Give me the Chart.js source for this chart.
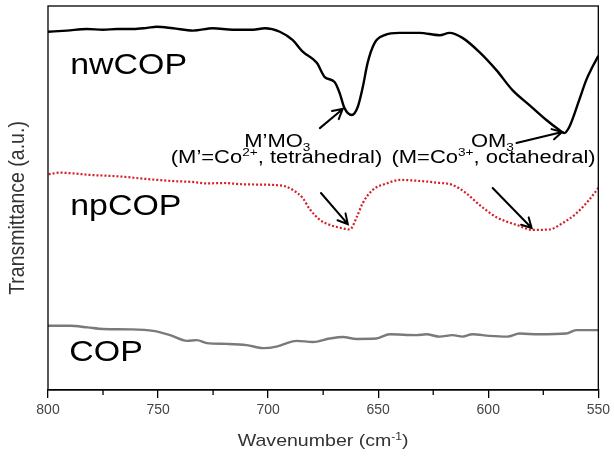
<!DOCTYPE html>
<html><head><meta charset="utf-8">
<script src="https://cdn.jsdelivr.net/npm/chart.js@4.4.1/dist/chart.umd.min.js"></script>
<style>html,body{margin:0;padding:0;background:#fff;}canvas{display:block;}</style>
</head><body>
<canvas id="c" width="614" height="458"></canvas>
<script>
// ---- data (wavenumber in cm^-1, transmittance in arbitrary units) ----
const nwWave = [800, 791.4, 782.3, 775, 768.7, 761.3, 755, 750.6, 743.2, 734.1, 725.1, 716, 706.9, 701.5, 694.7, 688.8, 684.3, 677.9, 674.3, 669.8, 667.5, 665.3, 662, 659.3, 657, 654.8, 651.6, 647.1, 640.3, 631.2, 622.1, 617.6, 611.7, 604, 596.3, 589, 581.3, 573.6, 567.7, 565.5, 563.2, 558.7, 555.5, 552.7, 550];
const nwT = [93.3, 93.6, 94.0, 93.8, 94.0, 94.0, 94.3, 94.6, 94.2, 93.6, 94.2, 93.8, 93.8, 94.2, 93.3, 91.1, 88.1, 85.2, 81.5, 80.2, 77.3, 73.4, 71.6, 73.7, 78.9, 85.2, 90.4, 92.4, 93.0, 93.0, 92.4, 93.0, 91.7, 88.0, 83.3, 78.1, 74.2, 70.3, 67.7, 66.9, 68.5, 75.5, 80.7, 84.1, 87.0];

const npWave = [799.7, 794.4, 788.5, 780.8, 773.1, 765, 758.1, 750, 743.2, 735, 727.8, 720, 712.8, 705, 697.8, 692, 688.8, 684.3, 681.1, 676.5, 672, 666.1, 662.9, 659.7, 657, 652.5, 646.1, 640.2, 632.5, 623.5, 616.2, 609.9, 604, 596.3, 587.2, 580, 572.3, 566.4, 560, 554.2, 550];
const npT = [56.2, 56.6, 56.4, 56.0, 55.8, 55.5, 55.1, 54.7, 54.4, 54.2, 53.8, 53.9, 53.6, 53.5, 53.4, 53.0, 52.1, 50.0, 47.1, 44.3, 43.0, 42.1, 41.8, 45.1, 48.7, 52.1, 53.8, 54.7, 54.5, 54.0, 53.4, 51.2, 48.2, 45.0, 43.0, 41.7, 41.8, 43.4, 46.0, 49.5, 52.6];

const copWave = [800, 789.9, 782, 774.9, 762.7, 752.2, 744.5, 736.8, 732.4, 727.8, 718.8, 709.8, 702.2, 696.2, 687.1, 679.6, 672, 666, 659.9, 650.9, 644.8, 632.7, 628.1, 622.1, 616.2, 611.7, 607.2, 599.5, 591.3, 585.8, 576.9, 564.6, 560.1, 550];
const copT = [16.75, 16.75, 16.3, 15.9, 15.8, 15.4, 14.3, 12.8, 13.0, 12.2, 12.0, 11.7, 10.9, 11.3, 12.8, 12.5, 13.4, 13.8, 13.3, 13.4, 14.5, 14.3, 14.5, 13.9, 14.3, 13.9, 14.5, 14.1, 13.9, 14.7, 14.5, 14.7, 15.6, 15.6];

const majorTicks = [800, 750, 700, 650, 600, 550];
const minorTicks = [775, 725, 675, 625, 575];
const seriesNames = ['nwCOP', 'npCOP', 'COP'];
const xTitle = 'Wavenumber (cm';
const yTitle = 'Transmittance (a.u.)';

// ---- helpers ----
const FONT = '"Liberation Sans", Arial, Helvetica, sans-serif';
function pts(xs, ys) { return xs.map((x, i) => ({ x: x, y: ys[i] })); }

function drawRich(ctx, parts, x, y, size, sx, align, color) {
  ctx.save();
  let total = 0;
  const ms = parts.map(p => {
    const s = (p.sub || p.sup) ? size * 0.62 : size;
    ctx.font = s + 'px ' + FONT;
    const w = ctx.measureText(p.t).width;
    total += w;
    return { s: s, w: w };
  });
  ctx.translate(x, y);
  ctx.scale(sx, 1);
  let cx = align === 'center' ? -total / 2 : (align === 'right' ? -total : 0);
  ctx.fillStyle = color;
  ctx.textBaseline = 'alphabetic';
  ctx.textAlign = 'left';
  parts.forEach((p, i) => {
    ctx.font = ms[i].s + 'px ' + FONT;
    const dy = p.sub ? size * 0.22 : (p.sup ? -size * 0.38 : 0);
    ctx.fillText(p.t, cx, dy);
    cx += ms[i].w;
  });
  ctx.restore();
}

function drawArrow(ctx, x1, y1, x2, y2) {
  const ang = Math.atan2(y2 - y1, x2 - x1);
  const L = 11, A = 0.5;
  ctx.beginPath();
  ctx.moveTo(x1, y1); ctx.lineTo(x2, y2);
  ctx.moveTo(x2 - L * Math.cos(ang - A), y2 - L * Math.sin(ang - A));
  ctx.lineTo(x2, y2);
  ctx.lineTo(x2 - L * Math.cos(ang + A), y2 - L * Math.sin(ang + A));
  ctx.stroke();
}

const decor = {
  id: 'decor',
  afterDraw(chart) {
    const { ctx, chartArea: a, scales: { x, y } } = chart;
    const X = v => x.getPixelForValue(v), Y = v => y.getPixelForValue(v);
    ctx.save();
    // frame
    ctx.strokeStyle = '#000';
    ctx.lineWidth = 1.3;
    ctx.strokeRect(a.left, a.top, a.right - a.left, a.bottom - a.top);
    // minor ticks
    minorTicks.forEach(v => {
      const px = X(v);
      ctx.beginPath(); ctx.moveTo(px, a.bottom); ctx.lineTo(px, a.bottom + 5); ctx.stroke();
    });
    // series labels
    drawRich(ctx, [{ t: seriesNames[0] }], X(789.9), Y(82.3), 30, 1.13, 'left', '#000');
    drawRich(ctx, [{ t: seriesNames[1] }], X(789.9), Y(45.6), 30, 1.13, 'left', '#000');
    drawRich(ctx, [{ t: seriesNames[2] }], X(790.3), Y(7.5), 30, 1.13, 'left', '#000');
    // annotations
    drawRich(ctx, [{ t: 'M\u2019MO' }, { t: '3', sub: true }], X(695.8), Y(63.3), 18, 1.22, 'center', '#000');
    drawRich(ctx, [{ t: '(M\u2019=Co' }, { t: '2+', sup: true }, { t: ', tetrahedral)' }], X(696.2), Y(59.1), 18, 1.22, 'center', '#000');
    drawRich(ctx, [{ t: 'OM' }, { t: '3', sub: true }], X(598.1), Y(63.3), 18, 1.22, 'center', '#000');
    drawRich(ctx, [{ t: '(M=Co' }, { t: '3+', sup: true }, { t: ', octahedral)' }], X(597.6), Y(59.1), 18, 1.22, 'center', '#000');
    // arrows
    ctx.strokeStyle = '#000';
    ctx.lineWidth = 2;
    ctx.lineCap = 'round';
    drawArrow(ctx, X(676.5), Y(68.2), X(666.1), Y(73.2));
    drawArrow(ctx, X(587.2), Y(64.3), X(566.4), Y(67.2));
    drawArrow(ctx, X(676.0), Y(51.3), X(663.8), Y(43.2));
    drawArrow(ctx, X(598.0), Y(52.6), X(580.3), Y(42.2));
    // x title
    drawRich(ctx, [{ t: xTitle }, { t: '-1', sup: true }, { t: ')' }], (a.left + a.right) / 2, 446, 17, 1.15, 'center', '#333');
    // y title (rotated)
    ctx.save();
    ctx.translate(24, 208);
    ctx.rotate(-Math.PI / 2);
    ctx.scale(1, 1.1);
    ctx.font = '19.5px ' + FONT;
    ctx.fillStyle = '#333';
    ctx.textAlign = 'center';
    ctx.textBaseline = 'alphabetic';
    ctx.fillText(yTitle, 0, 0);
    ctx.restore();
    ctx.restore();
  }
};

new Chart(document.getElementById('c'), {
  type: 'line',
  data: {
    datasets: [
      { label: seriesNames[0], data: pts(nwWave, nwT), borderColor: '#000', borderWidth: 2.4, pointRadius: 0, cubicInterpolationMode: 'monotone', fill: false },
      { label: seriesNames[1], data: pts(npWave, npT), borderColor: 'rgb(215,30,40)', borderWidth: 2.2, borderDash: [2, 2], borderCapStyle: 'butt', pointRadius: 0, cubicInterpolationMode: 'monotone', fill: false },
      { label: seriesNames[2], data: pts(copWave, copT), borderColor: '#7a7a7a', borderWidth: 2.4, pointRadius: 0, cubicInterpolationMode: 'monotone', fill: false }
    ]
  },
  options: {
    responsive: false,
    animation: false,
    devicePixelRatio: 1,
    layout: { padding: { left: 48, right: 15, top: 6, bottom: 0 } },
    plugins: { legend: { display: false }, tooltip: { enabled: false }, title: { display: false } },
    scales: {
      x: {
        type: 'linear', min: 550, max: 800, reverse: true,
        afterBuildTicks: s => { s.ticks = majorTicks.map(v => ({ value: v })); },
        afterFit: s => { s.height = 68; },
        grid: { display: true, drawOnChartArea: false, drawTicks: true, tickLength: 8, color: '#000', lineWidth: 1.3 },
        border: { display: true, color: '#000', width: 1.3 },
        ticks: { color: '#444', font: { family: FONT, size: 14 }, padding: 4, maxRotation: 0, autoSkip: false }
      },
      y: { type: 'linear', min: 0, max: 100, display: false }
    }
  },
  plugins: [decor]
});
</script>
</body></html>
